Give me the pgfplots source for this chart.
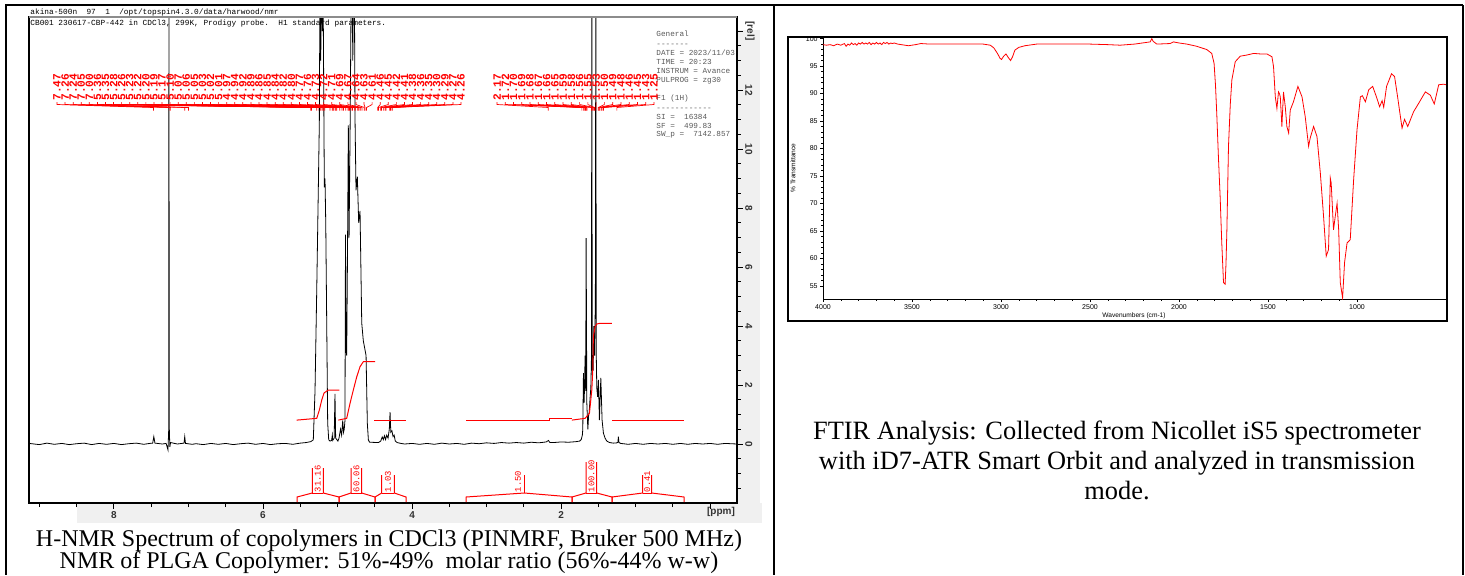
\documentclass[border=0pt]{standalone}
\usepackage{pgfplots}
\pgfplotsset{compat=1.18}
\usepackage{fontspec}
\setmainfont{Liberation Serif}
\setsansfont{Liberation Sans}
\setmonofont{Liberation Mono}

\begin{document}
\begin{tikzpicture}[x=0.5pt,y=0.5pt]
\useasboundingbox (0,0) rectangle (1465,575);

% grey strips behind the NMR scales (pixel coordinates, y from the top)
\begin{scope}[yshift=287.5pt, yscale=-1]
\fill[black!6] (77,503) rectangle (762,523);
\fill[black!6] (737,30) rectangle (760,523);
\end{scope}

% ---------------- H-NMR spectrum ----------------
\begin{axis}[
  at={(14.5pt,36pt)}, anchor=south west, scale only axis,
  width=354pt, height=243pt,
  x dir=reverse, xmin=-0.36, xmax=9.14, ymin=-2, ymax=14.475,
  axis line style={black, line width=0.9pt},
  xtick={2,4,6,8}, minor xtick={-0.5,0,0.5,...,9},
  extra x ticks={0}, extra x tick labels={},
  ytick={0,2,...,14}, yticklabels={0,2,4,6,8,10,12,[rel]},
  minor ytick={-1.5,-1,...,14},
  xtick pos=left, ytick pos=right, yticklabel pos=right,
  tick align=outside, major tick length=3pt, minor tick length=2pt,
  tick style={black, line width=0.5pt},
  /pgf/number format/assume math mode=true,
  ticklabel style={font=\sffamily\bfseries\fontsize{5}{5}\selectfont, text=black!80},
  xticklabel style={inner sep=1pt},
  yticklabel style={rotate=-90, anchor=south, inner sep=1pt},
]
\addplot[black, line width=0.4pt] coordinates {
(9.14,0.02) (9.0,-0.02) (8.9,0.03) (8.8,-0.01) (8.7,0.02) (8.6,-0.02) (8.5,0.01)
(8.4,0.03) (8.3,-0.02) (8.2,0.02) (8.1,-0.01) (8.0,0.02) (7.9,-0.02) (7.8,0.01)
(7.7,0.03) (7.6,-0.01) (7.52,0.02) (7.48,0.03) (7.465,0.25) (7.45,0.03) (7.35,0.0)
(7.30,0.02) (7.275,-0.2) (7.265,0.5) (7.262,16) (7.258,0.6) (7.25,-0.1) (7.24,0.05)
(7.15,0.0) (7.06,0.03) (7.05,0.25) (7.04,0.02) (6.95,-0.01) (6.9,0.01) (6.8,-0.02)
(6.7,0.02) (6.6,-0.01) (6.5,0.02) (6.4,-0.02) (6.3,0.01) (6.2,0.03) (6.1,-0.01)
(6.0,0.02) (5.9,-0.02) (5.8,0.01) (5.7,0.02) (5.6,-0.01) (5.5,0.03) (5.42,0.05)
(5.36,0.08) (5.325,0.14) (5.302,1.8) (5.279,5.2) (5.258,8.6) (5.244,10.9)
(5.235,16) (5.225,13) (5.215,16) (5.205,14) (5.195,16) (5.185,12) (5.177,8.7)
(5.168,9.0) (5.158,7.5) (5.145,4.1) (5.132,0.7) (5.118,0.14)
(5.10,0.1) (5.08,0.12) (5.07,0.3) (5.065,0.12) (5.045,0.2) (5.034,1.7) (5.025,0.2)
(5.01,0.15) (4.995,0.1) (4.98,0.2) (4.96,0.5) (4.945,0.3) (4.93,0.8) (4.92,0.4)
(4.91,0.5) (4.90,0.8) (4.893,7.1) (4.886,3.2) (4.877,3.0) (4.866,6.5) (4.855,10.8)
(4.845,7.0) (4.83,11) (4.815,16) (4.805,16) (4.795,13) (4.785,16) (4.775,16)
(4.765,11) (4.752,8.6) (4.734,9.06) (4.716,7.5) (4.698,7.9) (4.675,4.1) (4.654,3.5)
(4.617,3.0) (4.600,0.7) (4.586,0.14) (4.57,0.06)
(4.45,0.05) (4.42,0.1) (4.40,0.24) (4.385,0.15) (4.37,0.28) (4.355,0.15) (4.34,0.3)
(4.322,0.2) (4.305,0.5) (4.295,1.08) (4.285,0.4) (4.27,0.45) (4.255,0.25) (4.24,0.3)
(4.225,0.1) (4.20,0.05) (4.15,0.02)
(4.1,0.0) (4.0,0.02) (3.9,-0.01) (3.8,0.02) (3.7,-0.01) (3.6,0.03) (3.5,0.0)
(3.4,0.02) (3.3,-0.01) (3.2,0.03) (3.1,0.01) (3.0,0.04) (2.9,0.02) (2.8,0.05)
(2.7,0.03) (2.6,0.05) (2.5,0.03) (2.4,0.06) (2.3,0.04) (2.2,0.07) (2.17,0.12)
(2.15,0.05) (2.1,0.05) (2.0,0.07) (1.9,0.06) (1.8,0.08) (1.75,0.1) (1.73,0.15)
(1.715,0.3) (1.709,0.5) (1.700,2.4) (1.691,1.4) (1.685,2.0) (1.678,3.0) (1.670,1.8)
(1.664,6.98) (1.655,1.4) (1.641,0.5) (1.630,1.0) (1.624,1.05) (1.610,1.6) (1.601,1.9)
(1.592,3) (1.588,16) (1.582,2.5) (1.570,2.5) (1.560,4) (1.550,3) (1.540,5) (1.534,16)
(1.528,3) (1.521,1.9) (1.510,1.6) (1.499,2.17) (1.486,0.81) (1.467,2.24) (1.450,0.81)
(1.432,0.37) (1.41,0.2) (1.387,0.1) (1.35,0.05) (1.3,0.03) (1.25,0.04) (1.238,0.06)
(1.231,0.25) (1.224,0.05) (1.2,0.02) (1.1,-0.01) (1.0,0.02) (0.9,-0.01) (0.8,0.02)
(0.7,0.0) (0.6,0.02) (0.5,-0.01) (0.4,0.02) (0.3,-0.01) (0.2,0.02) (0.1,0.0)
(0.0,0.02) (-0.1,-0.01) (-0.2,0.02) (-0.36,0.0)
};
% integral curves
\addplot[red, line width=0.5pt] coordinates {(5.548,0.81) (5.279,0.87) (5.244,1.15) (5.212,1.49) (5.181,1.73) (5.124,1.83) (4.976,1.83)};
\addplot[red, line width=0.5pt] coordinates {(4.989,0.81) (4.877,0.87) (4.832,1.38) (4.788,1.83) (4.742,2.28) (4.698,2.62) (4.654,2.79) (4.497,2.79)};
\addplot[red, line width=0.5pt] coordinates {(4.510,0.81) (4.081,0.81)};
\addplot[red, line width=0.5pt] coordinates {(3.275,0.81) (2.161,0.81) (2.161,0.87) (1.856,0.87)};
\addplot[red, line width=0.5pt] coordinates {(1.856,0.81) (1.678,0.87) (1.620,1.04) (1.588,1.83) (1.575,2.51) (1.567,3.64) (1.544,3.98) (1.521,4.07) (1.477,4.09) (1.320,4.09)};
\addplot[red, line width=0.5pt] coordinates {(1.315,0.81) (0.349,0.81)};
\end{axis}

% ---------------- FTIR spectrum ----------------
\begin{axis}[
  at={(411.5pt,138pt)}, anchor=south west, scale only axis,
  width=311.5pt, height=130.75pt,
  x dir=reverse, xmin=500, xmax=4000, ymin=52.6, ymax=100.2,
  xtick={1000,1500,...,4000}, ytick={55,60,...,100},
  minor x tick num=4, minor y tick num=4,
  xtick pos=left, ytick pos=left,
  tick align=outside, major tick length=1.5pt, minor tick length=0.8pt,
  tick style={black, line width=0.3pt},
  axis line style={black, line width=0.5pt},
  ticklabel style={font=\sffamily\fontsize{3.5}{3.5}\selectfont, inner sep=1pt},
  /pgf/number format/assume math mode=true,
  /pgf/number format/set thousands separator={},
  scaled ticks=false,
]
\addplot[red, line width=0.4pt] coordinates {
(4000,98.9) (3980,98.8) (3960,98.9) (3940,98.7) (3920,99.0) (3900,98.8) (3880,99.1)
(3870,98.6) (3860,99.0) (3850,98.8) (3840,99.2) (3830,98.9) (3820,99.1) (3810,98.8)
(3800,99.2) (3790,99.0) (3780,99.3) (3770,99.0) (3760,99.2) (3750,99.0) (3740,99.3)
(3730,98.9) (3720,99.2) (3710,99.0) (3700,99.3) (3690,99.0) (3680,99.2) (3670,98.9)
(3660,99.3) (3650,99.1) (3640,99.3) (3630,99.0) (3620,99.2) (3610,99.1) (3600,99.2)
(3580,99.0) (3560,98.9) (3540,98.8) (3520,98.7) (3500,98.8) (3480,98.9) (3450,99.1)
(3400,99.0) (3300,99.0) (3200,99.0) (3100,99.0) (3060,98.8) (3040,98.3) (3020,97.3)
(3005,96.4) (2997,96.2) (2985,96.8) (2972,97.2) (2960,96.6) (2946,96.0) (2935,96.7)
(2922,97.9) (2900,98.4) (2866,98.7) (2800,99.0) (2700,99.0) (2600,99.0) (2500,99.0)
(2400,98.9) (2331,98.8) (2250,99.0) (2162,99.4) (2153,100.0) (2145,99.5) (2125,99.0)
(2050,99.1) (2031,99.4) (2000,99.2) (1956,99.0) (1900,98.6) (1844,98.0) (1816,97.3)
(1803,95.5) (1795,91.5) (1788,86.4) (1778,78) (1769,71.3) (1760,63) (1750,55.6)
(1741,55.3) (1736,59) (1731,65.2) (1722,80.4) (1712,88) (1703,92.5) (1684,95.8)
(1656,96.8) (1620,97.0) (1581,97.3) (1540,97.2) (1506,97.2) (1478,96.7) (1469,94.9)
(1459,89.4) (1450,87.3) (1441,90.3) (1436,90.0) (1431,89.4) (1422,84.0) (1413,90.3)
(1403,87.6) (1394,84.0) (1384,82.8) (1375,87.0) (1357,88.5) (1332,91.3) (1309,89.4)
(1291,85.8) (1272,80.4) (1263,81.9) (1244,84.0) (1225,82.2) (1206,75.5) (1188,67.7)
(1173,60.4) (1160,61.6) (1150,74.6) (1145,73.7) (1132,65.2) (1122,67.7) (1112,70.0)
(1103,65.2) (1094,55.6) (1081,52.8) (1070,59.2) (1056,62.8) (1038,63.4) (1019,74.3)
(1000,83.4) (981,89.4) (970,89.6) (953,88.5) (934,90.7) (912,91.3) (891,89.4)
(873,87.6) (859,88.7) (850,87.5) (834,91.3) (806,93.6) (789,93.1) (772,89.4)
(747,83.7) (733,85.3) (715,84.0) (682,86.7) (654,88.2) (616,90.3) (588,89.7)
(566,88.1) (541,91.6) (513,91.7) (500,91.6)
};
\end{axis}

% ---------------- annotations, in pixel coordinates from the top ----------------
\begin{scope}[yshift=287.5pt, yscale=-1]
\draw[black!45, line width=1pt] (29,17) -- (737,17);
\node[font=\sffamily\bfseries\fontsize{5}{5}\selectfont, text=black!80] at (721,512) {[ppm]};

% header of the NMR plot
\begin{scope}[font=\ttfamily\fontsize{3.9}{3.9}\selectfont]
\node[anchor=base west, inner sep=0] at (30,14.5) {akina-500n~~97~~1~~/opt/topspin4.3.0/data/harwood/nmr};
\node[anchor=base west, inner sep=0] at (30,25) {CB001 230617-CBP-442 in CDCl3, 299K, Prodigy probe.~~H1 standard parameters.};
\end{scope}
\begin{scope}[font=\ttfamily\fontsize{3.85}{3.85}\selectfont, text=black!65]
\node[anchor=base west, inner sep=0] at (656,36) {General};
\node[anchor=base west, inner sep=0] at (656,46) {-------};
\node[anchor=base west, inner sep=0] at (656,55) {DATE = 2023/11/03};
\node[anchor=base west, inner sep=0] at (656,64) {TIME = 20:23};
\node[anchor=base west, inner sep=0] at (656,73) {INSTRUM = Avance};
\node[anchor=base west, inner sep=0] at (656,82) {PULPROG = zg30};
\node[anchor=base west, inner sep=0] at (656,100) {F1 (1H)};
\node[anchor=base west, inner sep=0] at (656,110) {------------};
\node[anchor=base west, inner sep=0] at (656,119) {SI =~~16384};
\node[anchor=base west, inner sep=0] at (656,128) {SF =~~499.83};
\node[anchor=base west, inner sep=0] at (656,136) {SW\_p =~~7142.857};
\end{scope}

% peak labels
\foreach \v [count=\i from 0] in {7.47,7.26,7.24,7.05,7.00,5.36,5.35,5.28,5.26,5.23,5.22,5.20,5.19,5.17,5.10,5.07,5.06,5.05,5.03,5.02,5.01,4.97,4.94,4.92,4.89,4.86,4.85,4.84,4.82,4.80,4.77,4.76,4.73,4.72,4.71,4.69,4.67,4.64,4.63,4.61,4.46,4.45,4.42,4.41,4.38,4.36,4.35,4.30,4.29,4.27,4.26} {
  \pgfmathsetmacro\lx{57+\i*8.08}
  \pgfmathsetmacro\px{114+(8-\v)*74.5}
  \draw[red, line width=0.35pt] (\lx,102) -- (\lx,104.5) -- (\px,107.5) -- (\px,110.5);
  \node[red, rotate=90, anchor=west, inner sep=0, font=\ttfamily\bfseries\fontsize{5.6}{5.6}\selectfont] at (\lx,101) {\v};
}
\foreach \v [count=\i from 0] in {2.17,1.72,1.70,1.69,1.68,1.67,1.66,1.65,1.59,1.58,1.56,1.55,1.53,1.50,1.49,1.48,1.46,1.45,1.43,1.25} {
  \pgfmathsetmacro\lx{497+\i*8.26}
  \pgfmathsetmacro\px{114+(8-\v)*74.5}
  \draw[red, line width=0.35pt] (\lx,102) -- (\lx,104.5) -- (\px,107.5) -- (\px,110.5);
  \node[red, rotate=90, anchor=west, inner sep=0, font=\ttfamily\bfseries\fontsize{5.6}{5.6}\selectfont] at (\lx,101) {\v};
}

% integral labels
\begin{scope}[red, line width=0.5pt]
\foreach \xa/\xb/\la/\lb/\t/\lab in {297/339/312.3/323.3/468/31.16, 339/375/351/361.7/468/60.06, 375/406/381.7/394.3/475/1.03, 572/612/586/596.7/462/100.00, 612/684/642.7/651.7/475/0.41} {
  \draw (\xa,502) -- (\xa,497) -- (\la,493) -- (\la,\t);
  \draw (\xb,502) -- (\xb,497) -- (\lb,493) -- (\lb,\t);
  \draw (\la,493) -- (\lb,493);
  \pgfmathsetmacro\lc{(\la+\lb)/2}
  \node[rotate=90, anchor=west, inner sep=0, font=\ttfamily\fontsize{4.4}{4.4}\selectfont] at (\lc,492.5) {\lab};
}
\draw (466,502) -- (466,497) -- (524.3,493) -- (572,497) -- (572,502);
\draw (524.3,493) -- (524.3,475);
\node[rotate=90, anchor=west, inner sep=0, font=\ttfamily\fontsize{4.4}{4.4}\selectfont] at (518,492.5) {1.50};
\end{scope}

% captions
\node[anchor=base, font=\fontsize{12}{12}\selectfont, inner sep=0] at (389,546) {H-NMR Spectrum of copolymers in CDCl3 (PINMRF, Bruker 500 MHz)};
\node[anchor=base, font=\fontsize{12}{12}\selectfont, inner sep=0] at (389,568) {NMR of PLGA Copolymer: 51\%-49\%~~molar ratio (56\%-44\% w-w)};

% FTIR frame and labels
\draw[black, line width=0.8pt] (788,37) rectangle (1447,321);
\node[font=\sffamily\fontsize{3.3}{3.3}\selectfont] at (1134,316) {Wavenumbers (cm-1)};
\node[font=\sffamily\fontsize{3.3}{3.3}\selectfont, rotate=90] at (793,168) {\% Transmittance};
\node[align=center, font=\fontsize{13.2}{15}\selectfont, anchor=base, inner sep=0] at (1117,499) {FTIR Analysis: Collected from Nicollet iS5 spectrometer\\with iD7-ATR Smart Orbit and analyzed in transmission\\mode.};

% table rules
\draw[black, line width=1pt] (5,5) -- (1463,5);
\draw[black, line width=1pt] (6,5) -- (6,575);
\draw[black, line width=1pt] (774,5) -- (774,575);
\draw[black, line width=1pt] (1463,5) -- (1463,575);
\end{scope}
\end{tikzpicture}
\end{document}
